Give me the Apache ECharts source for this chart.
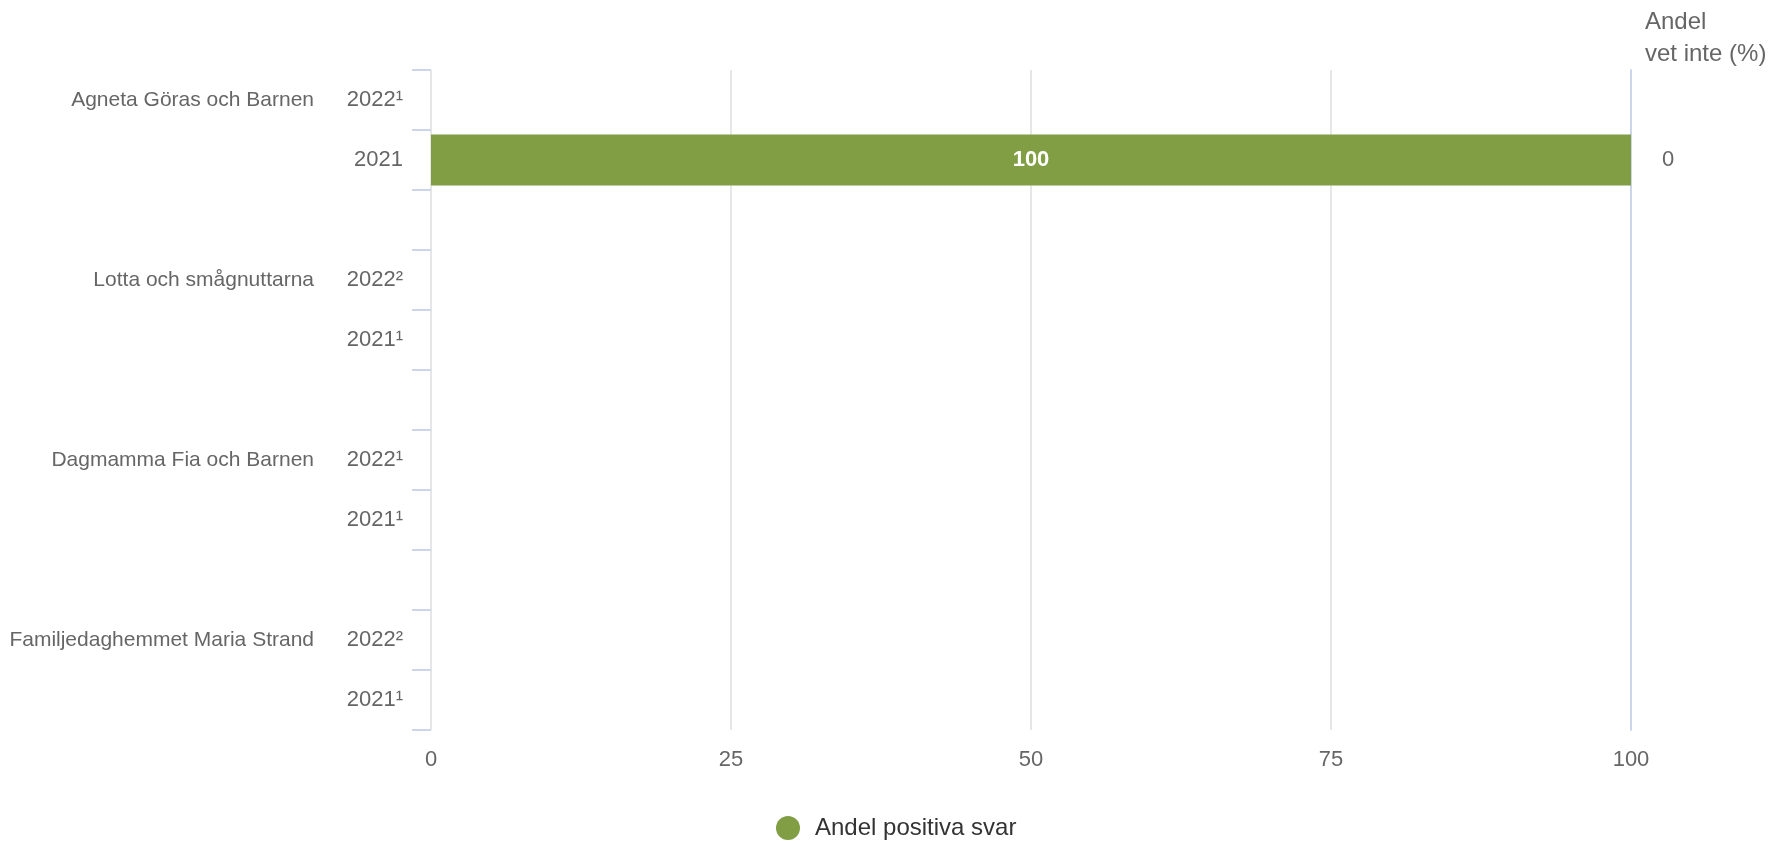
<!DOCTYPE html>
<html>
<head>
<meta charset="utf-8">
<script src="https://cdn.jsdelivr.net/npm/echarts@6/dist/echarts.min.js"></script>
<style>
html,body{margin:0;padding:0;background:#fff;}
#chart{width:1770px;height:841px;}
</style>
</head>
<body>
<div id="chart"></div>
<script>
// ---- data ----
const groups = ['Agneta Göras och Barnen', 'Lotta och smågnuttarna', 'Dagmamma Fia och Barnen', 'Familjedaghemmet Maria Strand'];
const years = [['2022¹', '2021'], ['2022²', '2021¹'], ['2022¹', '2021¹'], ['2022²', '2021¹']];
const positiva = [[null, 100], [null, null], [null, null], [null, null]];
const vetInte = [[null, 0], [null, null], [null, null], [null, null]];
const xTicks = [0, 25, 50, 75, 100];
const seriesName = 'Andel positiva svar';
const rightTitle = 'Andel\nvet inte (%)';

// ---- build rows (spacer row between groups) ----
const rowIds = [], yearLabels = [], groupLabels = [], posData = [], vetLabels = [];
groups.forEach((g, gi) => {
  if (gi > 0) {
    rowIds.push('s' + gi); yearLabels.push(''); groupLabels.push(''); posData.push(null); vetLabels.push('');
  }
  years[gi].forEach((y, yi) => {
    rowIds.push('r' + gi + '_' + yi);
    yearLabels.push(y);
    groupLabels.push(yi === 0 ? g : '');
    posData.push(positiva[gi][yi]);
    const v = vetInte[gi][yi];
    vetLabels.push(v === null ? '' : String(v));
  });
});

const FONT = "'Liberation Sans', Arial, sans-serif";
const chart = echarts.init(document.getElementById('chart'), null, {renderer: 'canvas'});
chart.setOption({
  animation: false,
  backgroundColor: '#ffffff',
  title: {
    text: rightTitle,
    left: 1645, top: 6, padding: 0,
    textStyle: {color: '#666666', fontSize: 24, fontWeight: 'normal', fontFamily: FONT, lineHeight: 32}
  },
  legend: {
    data: [seriesName],
    left: 771, top: 811,
    icon: 'circle', itemWidth: 24, itemHeight: 24, itemGap: 20,
    textStyle: {color: '#333333', fontSize: 24, fontFamily: FONT, padding: [0, 0, 0, 10]}
  },
  grid: {left: 431, right: 139, top: 70, bottom: 111, containLabel: false, outerBoundsMode: 'none'},
  xAxis: {
    type: 'value', min: 0, max: 100, interval: 25,
    axisLine: {show: false}, axisTick: {show: false},
    splitLine: {show: true, lineStyle: {color: '#e6e6e6', width: 2}},
    axisLabel: {color: '#666666', fontSize: 22, fontFamily: FONT, margin: 19,
      formatter: v => xTicks.includes(v) ? String(v) : ''}
  },
  yAxis: [
    {
      type: 'category', data: rowIds, inverse: true, position: 'left',
      axisLine: {show: false},
      axisTick: {show: true, length: 19, lineStyle: {color: '#ccd6eb', width: 2}},
      axisLabel: {color: '#666666', fontSize: 22, fontFamily: FONT, margin: 28,
        formatter: (v, i) => yearLabels[i]}
    },
    {
      type: 'category', data: rowIds, inverse: true, position: 'left',
      axisLine: {show: false}, axisTick: {show: false}, splitLine: {show: false},
      axisLabel: {color: '#666666', fontSize: 21, fontFamily: FONT, margin: 117,
        formatter: (v, i) => groupLabels[i]}
    },
    {
      type: 'category', data: rowIds, inverse: true, position: 'right',
      axisLine: {show: true, lineStyle: {color: '#ccd6eb', width: 2}},
      axisTick: {show: false}, splitLine: {show: false},
      axisLabel: {color: '#666666', fontSize: 22, fontFamily: FONT, margin: 31, align: 'left',
        formatter: (v, i) => vetLabels[i]}
    }
  ],
  series: [{
    name: seriesName, type: 'bar', yAxisIndex: 0,
    data: posData, barWidth: 51,
    itemStyle: {color: '#819e45'},
    label: {show: true, position: 'inside', color: '#ffffff', fontWeight: 'bold', fontSize: 22, fontFamily: FONT}
  }]
});
</script>
</body>
</html>
